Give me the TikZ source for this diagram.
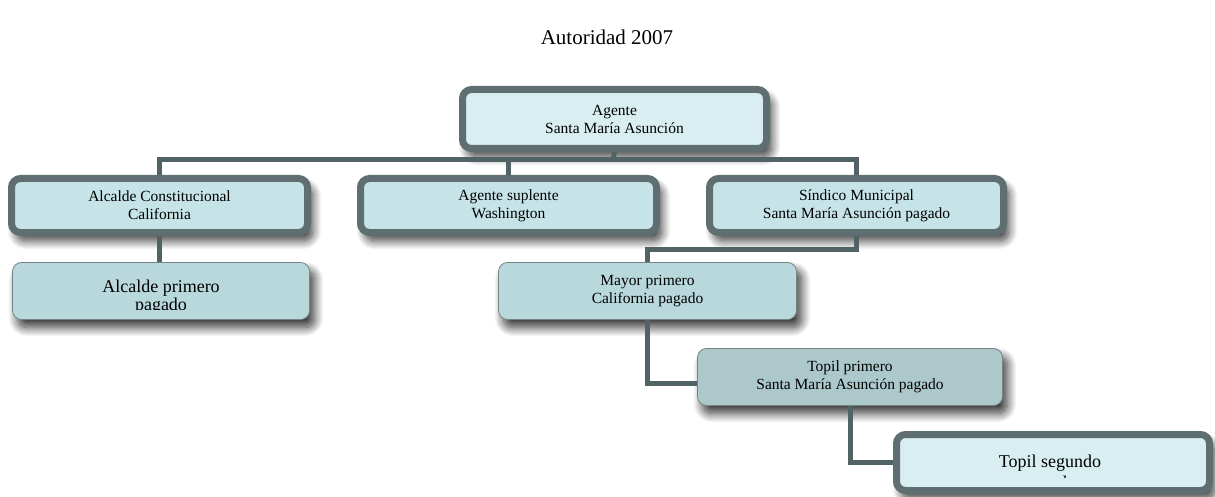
\documentclass[tikz,border=0pt]{standalone}
\usepackage{fontspec}
\setmainfont{Liberation Serif}
\usetikzlibrary{shadows.blur}

\definecolor{frame}{HTML}{5E6E71}
\definecolor{paleteal}{HTML}{D9EEF1}
\definecolor{midteal}{HTML}{C6E4E7}
\definecolor{softteal}{HTML}{B8D8DB}
\definecolor{dimteal}{HTML}{ACC8CA}
\definecolor{linkgray}{HTML}{526366}

\tikzset{
  boxshadow/.style={blur shadow={shadow xshift=5pt, shadow yshift=-8pt,
      shadow blur radius=9pt, shadow opacity=80, shadow blur steps=16}},
  heavybox/.style={draw=frame, line width=7pt, rounded corners=9pt,
      fill=paleteal, boxshadow, inner sep=0pt, align=center,
      font=\fontsize{15.5}{18}\selectfont},
  lightbox/.style={draw=frame!85, line width=0.8pt, rounded corners=9pt,
      fill=softteal, boxshadow, inner sep=0pt, align=center,
      font=\fontsize{15.5}{18}\selectfont},
  bigtext/.style={font=\fontsize{18}{18}\selectfont, inner sep=0pt, anchor=base},
  link/.style={draw=linkgray, line width=5pt},
  heading/.style={font=\fontsize{21}{24}\selectfont, inner sep=0pt}
}

\begin{document}
\begin{tikzpicture}[x=1pt, y=-1pt]
\useasboundingbox (0,0) rectangle (1215,497);

\node[heading, anchor=base] (title) at (607,45) {Autoridad 2007};

% top level
\node[heavybox, minimum width=304pt, minimum height=59pt] (agente) at (614.5,119)
  {Agente\\Santa María Asunción};

% second level
\node[heavybox, fill=midteal, minimum width=296pt, minimum height=54pt] (alcalde) at (159.5,205.5)
  {Alcalde Constitucional\\California};
\node[heavybox, fill=midteal, minimum width=296pt, minimum height=54pt] (suplente) at (508.5,205.5)
  {Agente suplente\\Washington};
\node[heavybox, fill=midteal, minimum width=294pt, minimum height=54pt] (sindico) at (856.5,205.5)
  {Síndico Municipal\\Santa María Asunción pagado};

% third level
\node[lightbox, minimum width=297pt, minimum height=57pt] (primero) at (161,291) {};
\begin{scope}
  \clip (20,270) rectangle (302,309);
  \node[bigtext] (primeroA) at (161,292) {Alcalde primero};
  \node[bigtext] (primeroB) at (161,310) {pagado};
\end{scope}
\node[lightbox, minimum width=298pt, minimum height=57pt] (mayor) at (647.5,291)
  {Mayor primero\\California pagado};

% fourth and fifth level
\node[lightbox, fill=dimteal, minimum width=305pt, minimum height=57pt] (topilA) at (850,377)
  {Topil primero\\Santa María Asunción pagado};
\node[heavybox, minimum width=313pt, minimum height=56pt] (topilB) at (1053,462.5) {};
\begin{scope}
  \clip (905,440) rectangle (1200,477);
  \node[bigtext] (topilBa) at (1050,467) {Topil segundo};
  \node[bigtext] (topilBb) at (1050,488) {pagado};
\end{scope}

% connectors
\coordinate (bus) at (613,160);
\draw[link] (agente.south) -- (bus);
\draw[link] (alcalde.north) |- (bus);
\draw[link] (sindico.north) |- (bus);
\draw[link] (suplente.north) -- (suplente.north |- bus);
\draw[link] (alcalde.south) -- (alcalde.south |- primero.north);
\draw[link] (sindico.south) -- ++(0,13) -| (mayor.north);
\draw[link] (mayor.south) |- ([yshift=-6pt]topilA.west);
\draw[link] (topilA.south) |- (topilB.west);
\end{tikzpicture}
\end{document}
